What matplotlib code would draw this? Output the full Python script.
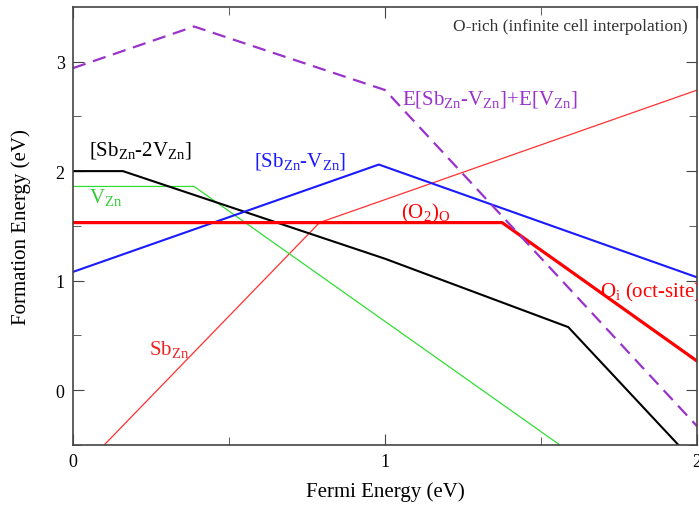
import matplotlib.pyplot as plt

plt.rcParams['font.family'] = 'Liberation Serif'
plt.rcParams['mathtext.fontset'] = 'custom'
plt.rcParams['mathtext.rm'] = 'Liberation Serif'
plt.rcParams['mathtext.it'] = 'Liberation Serif:italic'

# data (Fermi energy, formation energy)
sb2v_x = [0.0, 0.16, 1.0, 1.587, 1.94]
sb2v_y = [2.0, 2.0, 1.20, 0.576, -0.5]

vzn_x = [0.0, 0.388, 1.56]
vzn_y = [1.86, 1.86, -0.5]

sbv_x = [0.0, 0.98, 2.0]
sbv_y = [1.08, 2.06, 1.03]

sum_x = [0.0, 0.388, 1.0, 2.0]
sum_y = [2.94, 3.32, 2.74, -0.33]

sbzn_x = [0.10, 0.79, 2.0]
sbzn_y = [-0.5, 1.53, 2.74]

oi_x = [0.0, 1.375, 1.583, 2.0]
oi_y = [1.53, 1.53, 1.11, 0.265]

fig = plt.figure(figsize=(6.99, 5.06), dpi=100)
ax = fig.add_axes([0.1044, 0.1186, 0.893, 0.866])

ax.plot(sbzn_x, sbzn_y, color='#ff3030', lw=0.9)
ax.plot(vzn_x, vzn_y, color='#33dd33', lw=0.9)
ax.plot(sb2v_x, sb2v_y, color='black', lw=1.5)
ax.plot(sbv_x, sbv_y, color='#1a1aff', lw=1.5)
ax.plot(oi_x, oi_y, color='#ff0000', lw=2.3)
ax.plot(sum_x, sum_y, color='#9933cc', lw=1.6, ls=(0, (6, 3.5)))

ax.set_xlim(0, 2)
ax.set_ylim(-0.5, 3.5)
ax.set_xticks([0, 1, 2])
ax.set_xticks([0.5, 1.5], minor=True)
ax.set_yticks([0, 1, 2, 3])
ax.set_yticks([-0.5, 0.5, 1.5, 2.5], minor=True)
ax.tick_params(which='both', direction='in', top=True, right=True,
               labelsize=13, color='#444444')
ax.tick_params(which='major', length=8, pad=6)
ax.tick_params(which='minor', length=6)
for s in ax.spines.values():
    s.set_color('#444444')
    s.set_linewidth(1.2)

ax.set_xlabel('Fermi Energy (eV)', fontsize=15, labelpad=8)
ax.set_ylabel('Formation Energy (eV)', fontsize=15, labelpad=18)

fs = 15
ax.text(0.985, 0.975, 'O-rich (infinite cell interpolation)', transform=ax.transAxes,
        ha='right', va='top', fontsize=12.5, color='#333333')
ax.text(0.05, 2.15, r'[Sb$_{\mathrm{Zn}}$-2V$_{\mathrm{Zn}}$]', fontsize=fs, color='black')
ax.text(0.58, 2.05, r'[Sb$_{\mathrm{Zn}}$-V$_{\mathrm{Zn}}$]', fontsize=fs, color='#1a1aff')
ax.text(0.05, 1.72, r'V$_{\mathrm{Zn}}$', fontsize=fs, color='#33cc33')
ax.text(1.055, 2.62, r'E[Sb$_{\mathrm{Zn}}$-V$_{\mathrm{Zn}}$]+E[V$_{\mathrm{Zn}}$]',
        fontsize=fs, color='#9933cc')
ax.text(1.05, 1.58, r'(O$_{2}$)$_{\mathrm{O}}$', fontsize=fs, color='#ff0000')
ax.text(0.245, 0.33, r'Sb$_{\mathrm{Zn}}$', fontsize=fs, color='#ee2222')
ax.text(1.69, 0.86, r'O$_{\mathrm{i}}$ (oct-site)', fontsize=fs, color='#ff0000',
        clip_on=True)

fig.savefig('out.png', dpi=100)
